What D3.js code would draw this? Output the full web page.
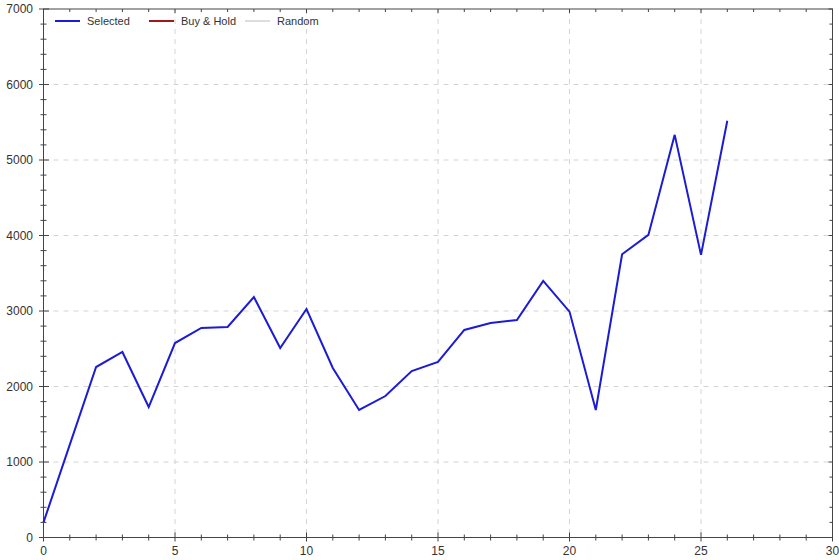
<!DOCTYPE html>
<html><head><meta charset="utf-8">
<script src="https://cdn.jsdelivr.net/npm/d3@7"></script>
<style>body{margin:0;background:#fff}svg{display:block}text{font-family:"Liberation Sans",Arial,sans-serif}</style>
</head><body>
<script>
const xs = [0,1,2,3,4,5,6,7,8,9,10,11,12,13,14,15,16,17,18,19,20,21,22,23,24,25,26];
const selected = [200,1230,2258,2457,1728,2576,2775,2788,3185,2510,3026,2245,1689,1874,2205,2325,2749,2841,2880,3399,2992,1689,3752,4008,5333,3743,5519];
const legendLabels = ["Selected","Buy & Hold","Random"];
const legendColors = ["#1c1cd4","#a01818","#dddddd"];
const xTicks = [0,5,10,15,20,25,30];
const yTicks = [0,1000,2000,3000,4000,5000,6000,7000];

const W=839,H=560;
const m={l:43.5,r:6.5,t:9,b:22.5};
const svg=d3.select("body").append("svg").attr("width",W).attr("height",H);
const x=d3.scaleLinear().domain([0,30]).range([m.l,W-m.r]);
const y=d3.scaleLinear().domain([0,7000]).range([H-m.b,m.t]);
const x0=x(0),x1=x(30),y0=y(0),y1=y(7000);

// grid
const g=svg.append("g");
g.selectAll(".vg").data(xTicks.filter(d=>d>0&&d<30)).enter().append("line")
 .attr("x1",d=>x(d)).attr("x2",d=>x(d)).attr("y1",y1).attr("y2",y0)
 .attr("stroke","#d4d4d4").attr("stroke-dasharray","5,5");
g.selectAll(".hg").data(yTicks.filter(d=>d>0&&d<7000)).enter().append("line")
 .attr("x1",x0).attr("x2",x1).attr("y1",d=>y(d)).attr("y2",d=>y(d))
 .attr("stroke","#d4d4d4").attr("stroke-dasharray","5,5");

// frame
svg.append("rect").attr("x",x0).attr("y",y1).attr("width",x1-x0).attr("height",y0-y1)
 .attr("fill","none").attr("stroke","#444").attr("stroke-width",1);

// ticks
const minorX=d3.range(0,31,1), minorY=d3.range(0,7001,200);
const tk=svg.append("g").attr("stroke","#444").attr("stroke-width",1);
minorX.forEach(d=>{
  const big=d%5===0;
  tk.append("line").attr("x1",x(d)).attr("x2",x(d)).attr("y1",y0-(big?5:3)).attr("y2",y0+(big?4:3));
  tk.append("line").attr("x1",x(d)).attr("x2",x(d)).attr("y1",y1).attr("y2",y1+(big?4:3));
});
minorY.forEach(d=>{
  const big=d%1000===0;
  tk.append("line").attr("x1",x0-(big?4.5:3)).attr("x2",x0+(big?5.5:3)).attr("y1",y(d)).attr("y2",y(d));
  tk.append("line").attr("x1",x1-(big?4:3)).attr("x2",x1).attr("y1",y(d)).attr("y2",y(d));
});

// labels
svg.selectAll(".xl").data(xTicks).enter().append("text")
 .attr("x",d=>x(d)).attr("y",H-5).attr("text-anchor","middle")
 .attr("font-size",12).attr("fill","#333").text(d=>d);
svg.selectAll(".yl").data(yTicks).enter().append("text")
 .attr("x",33).attr("y",d=>y(d)+4).attr("text-anchor","end")
 .attr("font-size",12).attr("fill","#333").text(d=>d);

// line
const line=d3.line().x((d,i)=>x(xs[i])).y(d=>y(d));
svg.append("path").datum(selected).attr("d",line).attr("fill","none")
 .attr("stroke",legendColors[0]).attr("stroke-width",2).attr("stroke-linejoin","miter");

// legend
const lx=[55,149,245];
legendLabels.forEach((t,i)=>{
  svg.append("line").attr("x1",lx[i]).attr("x2",lx[i]+25).attr("y1",21).attr("y2",21)
   .attr("stroke",legendColors[i]).attr("stroke-width",2);
  svg.append("text").attr("x",lx[i]+32).attr("y",25).attr("font-size",11).attr("fill","#333").text(t);
});
</script>
</body></html>
